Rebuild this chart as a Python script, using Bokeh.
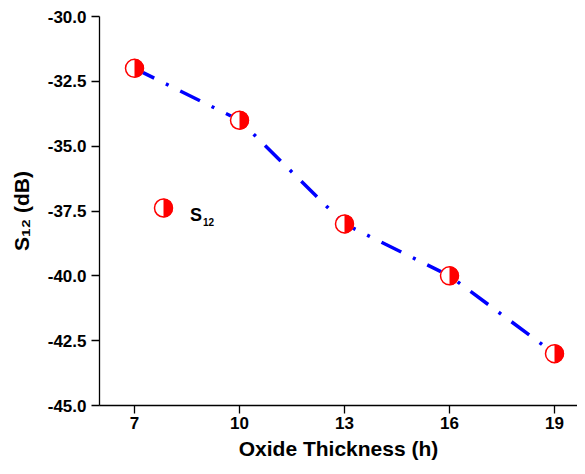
import math
from bokeh.plotting import figure
from bokeh.models import Range1d, FixedTicker, Label, NumeralTickFormatter
from bokeh.embed import file_html
from bokeh.resources import INLINE

# ---- data ----
thickness = [7, 10, 13, 16, 19]
s12_db = [-32.0, -34.0, -38.0, -40.0, -43.0]
x_ticks = [7, 10, 13, 16, 19]
y_ticks = [-45.0, -42.5, -40.0, -37.5, -35.0, -32.5, -30.0]
x_title = "Oxide Thickness (h)"
y_title = "S\u2081\u2082 (dB)"
series_name = ("S", "12")

# ---- layout ----
W, H = 577, 466
L, T, B = 99, 16, 61
PX_X = 35.0
x0 = 6.0
x1 = x0 + (W - L) / PX_X
y0, y1 = -45.0, -30.0
PX_Y = (H - T - B) / (y1 - y0)

FONT = "Liberation Sans"
RED = "#FF0000"
BLUE = "#0000FF"

p = figure(width=W, height=H, output_backend="svg", toolbar_location=None,
           x_range=Range1d(x0, x1), y_range=Range1d(y0, y1),
           min_border_left=L, min_border_right=0, min_border_top=T,
           min_border_bottom=B, background_fill_color="white")
p.outline_line_color = None
p.xgrid.visible = False
p.ygrid.visible = False

for ax in (p.xaxis, p.yaxis):
    ax.major_tick_out = 8
    ax.major_tick_in = 0
    ax.minor_tick_out = 0
    ax.minor_tick_in = 0
    ax.axis_line_width = 1.3
    ax.major_tick_line_width = 1.3
    ax.axis_line_color = "black"
    ax.major_tick_line_color = "black"
    ax.major_label_text_font = FONT
    ax.major_label_text_font_style = "bold"
    ax.major_label_text_font_size = "17px"
    ax.major_label_text_color = "black"
    ax.axis_label_text_font = FONT
    ax.axis_label_text_font_style = "bold"
    ax.axis_label_text_font_size = "21px"
    ax.axis_label_text_color = "black"

p.xaxis.ticker = FixedTicker(ticks=x_ticks)
p.yaxis.ticker = FixedTicker(ticks=y_ticks)
p.yaxis.formatter = NumeralTickFormatter(format="0.0")
p.xaxis.major_label_standoff = 3
p.yaxis.major_label_standoff = 5
p.xaxis.axis_label = x_title
p.xaxis.axis_label_standoff = 5
p.yaxis.axis_label = y_title
p.yaxis.axis_label_standoff = 12


def px_to_x(cx):
    return x0 + (cx - L) / PX_X


def px_to_y(cy):
    return y1 - (cy - T) / PX_Y


# ---- series ----
p.line(thickness, s12_db, line_color=BLUE, line_width=3.5, line_dash="22 13 3 13")


def half_marker(xs, ys):
    p.scatter(xs, ys, marker="circle", size=19, fill_color="white", line_color=None)
    p.wedge(xs, ys, radius=9.5, radius_units="screen", start_angle=-math.pi / 2,
            end_angle=math.pi / 2, fill_color=RED, line_color=None)
    p.scatter(xs, ys, marker="circle", size=18, fill_color=None, line_color=RED,
              line_width=1.5)


half_marker(thickness, s12_db)

# ---- legend (manual, for subscript) ----
half_marker([px_to_x(163)], [px_to_y(207.5)])
p.add_layout(Label(x=px_to_x(189.5), y=px_to_y(214.5), text=series_name[0], text_font=FONT,
                   text_font_style="bold", text_font_size="18px", text_color="black",
                   text_baseline="alphabetic", text_align="left"))
p.add_layout(Label(x=px_to_x(202.5), y=px_to_y(221), text=series_name[1], text_font=FONT,
                   text_font_style="bold", text_font_size="10px", text_color="black",
                   text_baseline="alphabetic", text_align="left"))

open("out.html", "w").write(file_html(p, INLINE))
